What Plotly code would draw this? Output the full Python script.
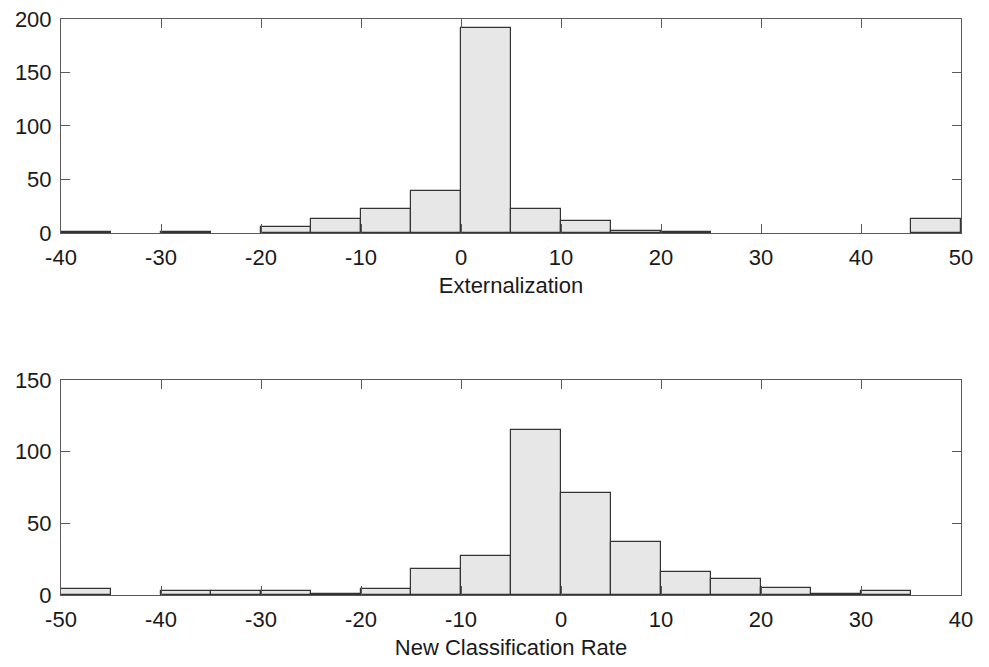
import plotly.graph_objects as go
from plotly.subplots import make_subplots

# Top histogram: Externalization (bin left edges, width 5)
ext_edges = [-40, -35, -30, -25, -20, -15, -10, -5, 0, 5, 10, 15, 20, 25, 30, 35, 40, 45]
ext_counts = [1, 0, 1, 0, 6, 13, 22, 39, 192, 22, 11, 2, 1, 0, 0, 0, 0, 13]

# Bottom histogram: New Classification Rate
ncr_edges = [-50, -45, -40, -35, -30, -25, -20, -15, -10, -5, 0, 5, 10, 15, 20, 25, 30, 35]
ncr_counts = [4, 0, 3, 3, 3, 1, 4, 18, 27, 115, 71, 37, 16, 11, 5, 1, 3, 0]

bin_width = 5
ext_xticks = [-40, -30, -20, -10, 0, 10, 20, 30, 40, 50]
ext_yticks = [0, 50, 100, 150, 200]
ncr_xticks = [-50, -40, -30, -20, -10, 0, 10, 20, 30, 40]
ncr_yticks = [0, 50, 100, 150]

FILL = "#e6e7e6"
EDGE = "#333333"
AX = "#5a5a5a"
FONT = "Liberation Sans, Arial, sans-serif"
FS = 22

fig = make_subplots(rows=2, cols=1, vertical_spacing=0.2)

def add_hist(edges, counts, row):
    xs = [e for e, c in zip(edges, counts) if c > 0]
    ys = [c for c in counts if c > 0]
    fig.add_trace(go.Bar(x=xs, y=ys, width=bin_width, offset=0,
                         marker=dict(color=FILL, line=dict(color=EDGE, width=1.2)),
                         showlegend=False, hoverinfo="x+y"), row=row, col=1)

add_hist(ext_edges, ext_counts, 1)
add_hist(ncr_edges, ncr_counts, 2)

axis_common = dict(showline=True, linecolor=AX, linewidth=1, mirror="ticks",
                   ticks="inside", ticklen=9, tickcolor=AX, tickwidth=1,
                   showgrid=False, zeroline=False, automargin=False,
                   ticklabeloverflow="allow",
                   tickfont=dict(family=FONT, size=FS, color="#1a1a1a"))

def labels(vals):
    return [str(v) for v in vals]

fig.update_xaxes(**axis_common)
fig.update_yaxes(**axis_common)

fig.update_xaxes(range=[-40, 50], tickvals=ext_xticks, ticktext=labels(ext_xticks),
                 ticklabelstandoff=5,
                 title=dict(text="Externalization", standoff=8,
                            font=dict(family=FONT, size=FS, color="#1a1a1a")),
                 domain=[0, 1], row=1, col=1)
fig.update_yaxes(range=[0, 200], tickvals=ext_yticks, ticktext=labels(ext_yticks),
                 ticklabelstandoff=4,
                 domain=[0.6285, 1.0], row=1, col=1)
fig.update_xaxes(range=[-50, 40], tickvals=ncr_xticks, ticktext=labels(ncr_xticks),
                 ticklabelstandoff=5,
                 title=dict(text="New Classification Rate", standoff=8,
                            font=dict(family=FONT, size=FS, color="#1a1a1a")),
                 domain=[0, 1], row=2, col=1)
fig.update_yaxes(range=[0, 150], tickvals=ncr_yticks, ticktext=labels(ncr_yticks),
                 ticklabelstandoff=4,
                 domain=[0.0, 0.3733], row=2, col=1)

fig.update_layout(width=981, height=659, bargap=0,
                  margin=dict(l=53, r=28, t=11, b=72, autoexpand=False),
                  plot_bgcolor="white", paper_bgcolor="white",
                  font=dict(family=FONT, size=FS, color="#1a1a1a"))

fig.write_html("out.html")
